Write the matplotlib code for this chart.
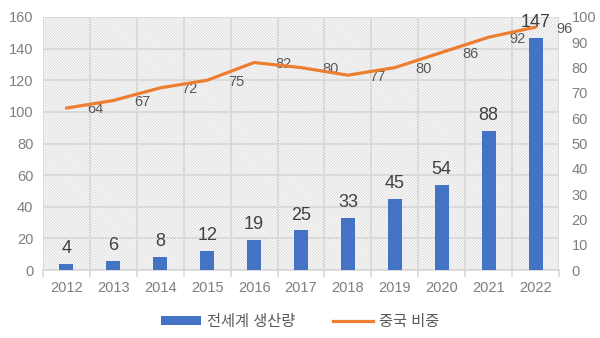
import matplotlib
matplotlib.use("Agg")
import matplotlib.pyplot as plt
from matplotlib.patches import Rectangle
from matplotlib.lines import Line2D
from matplotlib.patches import Patch

plt.rcParams['font.family'] = ['Liberation Sans', 'Noto Sans CJK KR', 'DejaVu Sans']

years = ['2012', '2013', '2014', '2015', '2016', '2017', '2018', '2019', '2020', '2021', '2022']
production = [4, 6, 8, 12, 19, 25, 33, 45, 54, 88, 147]
china_share = [64, 67, 72, 75, 82, 80, 77, 80, 86, 92, 96]

blue = '#4472C4'
orange = '#ED7D31'
tick_gray = '#7f7f7f'
grid_gray = '#d9d9d9'

fig = plt.figure(figsize=(6, 3.38), dpi=100)
ax = fig.add_axes([43 / 600, 1 - 270 / 338, 516 / 600, 253 / 338])
ax2 = ax.twinx()

# hatched plot background
plt.rcParams['hatch.linewidth'] = 0.5
ax.add_patch(Rectangle((0, 0), 1, 1, transform=ax.transAxes, facecolor='white',
                       edgecolor='#cfcfcf', hatch='\\' * 12, linewidth=0, zorder=0))

x = list(range(len(years)))
ax.bar(x, production, width=0.3, color=blue, zorder=3)
for xi, v in zip(x, production):
    ax.annotate(str(v), (xi, v), xytext=(0, 5), textcoords='offset points',
                ha='center', va='bottom', fontsize=13, color='#404040', zorder=4)

ax.set_xlim(-0.5, len(years) - 0.5)
ax.set_ylim(0, 160)
ax.set_yticks(range(0, 161, 20))
ax.set_xticks(x)
ax.set_xticklabels(years)
ax.set_xticks([i - 0.5 for i in range(len(years) + 1)], minor=True)
ax.tick_params(axis='x', which='major', length=0, pad=8, labelsize=10.5, labelcolor=tick_gray)
ax.tick_params(axis='x', which='minor', length=5, color=grid_gray, width=1.2)
ax.tick_params(axis='y', length=0, labelsize=10.5, labelcolor=tick_gray, pad=7)
ax.grid(True, which='minor', axis='x', color=grid_gray, linewidth=1.3, zorder=1)
ax.grid(True, which='major', axis='y', color=grid_gray, linewidth=1.3, zorder=1)
ax.set_axisbelow(True)
for s in ax.spines.values():
    s.set_visible(False)
ax.spines['bottom'].set_visible(True)
ax.spines['bottom'].set_color(grid_gray)
ax.spines['bottom'].set_linewidth(1.3)

ax2.plot(x, china_share, color=orange, linewidth=2.3, solid_capstyle='round', zorder=5)
for xi, v in zip(x, china_share):
    ax2.annotate(str(v), (xi, v), xytext=(21, -1), textcoords='offset points',
                 ha='center', va='center', fontsize=10.5, color='#595959')
ax2.set_ylim(0, 100)
ax2.set_yticks(range(0, 101, 10))
ax2.tick_params(axis='y', length=0, labelsize=10.5, labelcolor=tick_gray, pad=9)
for s in ax2.spines.values():
    s.set_visible(False)

handles = [Patch(facecolor=blue, edgecolor='none'),
           Line2D([0], [0], color=orange, linewidth=2.3)]
fig.legend(handles, ['전세계 생산량', '중국 비중'], loc='center', bbox_to_anchor=(0.5, 0.047),
           ncol=2, frameon=False, fontsize=11, labelcolor='#595959',
           handlelength=2.6, handleheight=0.5, columnspacing=2.5, handletextpad=0.4)

fig.savefig('out.png', dpi=100)
